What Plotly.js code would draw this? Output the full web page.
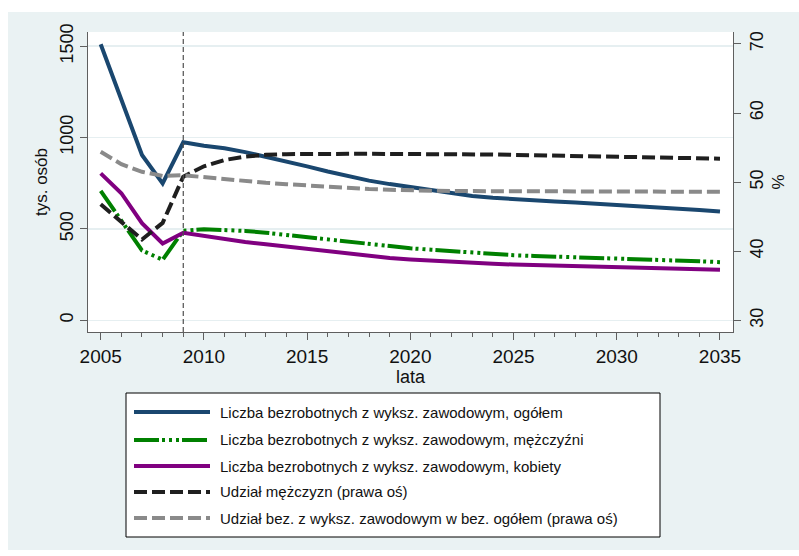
<!DOCTYPE html>
<html>
<head>
<meta charset="utf-8">
<script src="https://cdn.plot.ly/plotly-3.0.1.min.js"></script>
<style>html,body{margin:0;padding:0;background:#fff;}#chart{width:799px;height:556px;}</style>
</head>
<body>
<div id="chart"></div>
<script>
// ---- data ----
const years = [2005,2006,2007,2008,2009,2010,2011,2012,2013,2014,2015,2016,2017,2018,2019,2020,
               2021,2022,2023,2024,2025,2026,2027,2028,2029,2030,2031,2032,2033,2034,2035];
const ogolem = [1510,1207,904,749,974,955,941,920,895,868,842,814,788,764,745,728,
                712,695,680,670,662,655,650,645,639,633,627,620,613,604,595];
const mezczyzni = [708,545,382,331,490,498,496,489,479,467,455,441,427,414,402,394,
                   386,378,370,361,356,352,349,345,341,337,334,331,327,323,318];
const kobiety = [804,695,531,420,479,462,443,428,416,403,390,376,363,351,341,333,
                 326,319,314,309,305,302,300,298,296,294,292,289,286,281,276];
const udzialMez = [46.8,44.2,41.7,44.1,50.8,52.3,53.2,53.7,53.95,54.05,54.1,54.1,54.1,54.1,54.1,54.1,
                   54.05,54.0,54.0,54.0,53.95,53.9,53.9,53.85,53.8,53.75,53.7,53.65,53.6,53.5,53.4];
const udzialBez = [54.4,52.6,51.5,50.9,51.0,50.7,50.4,50.1,49.9,49.7,49.5,49.3,49.15,49.0,48.9,48.8,
                   48.75,48.7,48.7,48.7,48.65,48.65,48.65,48.6,48.6,48.6,48.6,48.6,48.6,48.6,48.6];
const seriesNames = [
  'Liczba bezrobotnych z wyksz. zawodowym, ogółem',
  'Liczba bezrobotnych z wyksz. zawodowym, mężczyźni',
  'Liczba bezrobotnych z wyksz. zawodowym, kobiety',
  'Udział mężczyzn (prawa oś)',
  'Udział bez. z wyksz. zawodowym w bez. ogółem (prawa oś)'
];
const leftTicks = [0,500,1000,1500];
const rightTicks = [30,40,50,60,70];
const xTicks = [2005,2010,2015,2020,2025,2030,2035];
const breakYear = 2009;

// ---- styles ----
const colors = ['#1a476f','#008000','#800080','#1f1f1f','#8a8a8a'];
const dashes = ['solid','25px,3px,3px,4px,3px,4px,3px,3px','solid','13px,5px','13px,5px'];
const values = [ogolem, mezczyzni, kobiety, udzialMez, udzialBez];
const axesFor = ['y','y','y','y2','y2'];

const traces = values.map((v,i)=>({
  x: years, y: v, yaxis: axesFor[i], name: seriesNames[i], type:'scatter', mode:'lines',
  line:{color:colors[i], width:4, dash:dashes[i]}, showlegend:false, hoverinfo:'skip'
}));

const F = "'Liberation Sans', Arial, sans-serif";
const axisCol = '#5f5f5f';
const bg = '#eaf2f3';

// paper coordinate helpers (plot area: x 88..733, y 32..332)
const px = v => (v-88)/645;
const py = v => (332-v)/300;

const shapes = [
  {type:'rect', xref:'paper', yref:'paper', x0:px(8), x1:px(799), y0:py(550), y1:py(12),
   fillcolor:bg, line:{width:0}, layer:'below'},
  {type:'rect', xref:'paper', yref:'paper', x0:0, x1:1, y0:0, y1:1,
   fillcolor:'#ffffff', line:{width:0}, layer:'below'},
  {type:'line', xref:'x', yref:'paper', x0:breakYear, x1:breakYear, y0:0, y1:1,
   line:{color:'#505050', width:1.2, dash:'5px,3px'}},
  // legend box
  {type:'rect', xref:'paper', yref:'paper', x0:px(126), x1:px(660), y0:py(537), y1:py(393),
   fillcolor:'#ffffff', line:{color:'#000000', width:1}}
];
const annotations = [];
const rowsY = [412, 440, 466, 492, 518];
seriesNames.forEach((n,i)=>{
  shapes.push({type:'line', xref:'paper', yref:'paper', x0:px(134), x1:px(210), y0:py(rowsY[i]), y1:py(rowsY[i]),
    line:{color:colors[i], width:4, dash:dashes[i]}});
  annotations.push({xref:'paper', yref:'paper', x:px(218), y:py(rowsY[i]), xanchor:'left', yanchor:'middle',
    text:n, showarrow:false, font:{family:F, size:15, color:'#111'}});
});

const layout = {
  width:799, height:556,
  margin:{l:88, r:66, t:32, b:224, pad:0},
  paper_bgcolor:'#ffffff', plot_bgcolor:'rgba(0,0,0,0)',
  font:{family:F, color:'#111'},
  showlegend:false,
  xaxis:{range:[2004.385,2035.63], tickvals:xTicks, ticktext:xTicks.map(String),
    ticks:'outside', ticklen:7, tickcolor:axisCol, tickwidth:1,
    showline:true, linecolor:axisCol, linewidth:1, showgrid:false, zeroline:false,
    tickfont:{family:F, size:19, color:'#111'},
    minor:{dtick:1, tick0:2005, ticks:'outside', ticklen:4, tickcolor:axisCol, showgrid:false},
    title:{text:'lata', font:{family:F, size:18, color:'#111'}, standoff:0}},
  yaxis:{range:[-64,1577], tickvals:leftTicks, ticktext:leftTicks.map(String),
    ticks:'outside', ticklen:7, tickcolor:axisCol, tickangle:-90,
    showline:true, linecolor:axisCol, linewidth:1, showgrid:true, gridcolor:'#e6eff1', gridwidth:1.5,
    zeroline:false, tickfont:{family:F, size:18, color:'#111'},
    title:{text:'tys. osób', font:{family:F, size:17, color:'#111'}, standoff:4}},
  yaxis2:{range:[28.31,71.73], overlaying:'y', side:'right', tickvals:rightTicks, ticktext:rightTicks.map(String),
    ticks:'outside', ticklen:7, tickcolor:axisCol, tickangle:-90,
    showline:true, linecolor:axisCol, linewidth:1, showgrid:false, zeroline:false,
    tickfont:{family:F, size:18, color:'#111'},
    title:{text:'%', font:{family:F, size:17, color:'#111'}, standoff:6}},
  shapes:shapes, annotations:annotations
};

Plotly.newPlot('chart', traces, layout, {displayModeBar:false, staticPlot:true});
</script>
</body>
</html>
